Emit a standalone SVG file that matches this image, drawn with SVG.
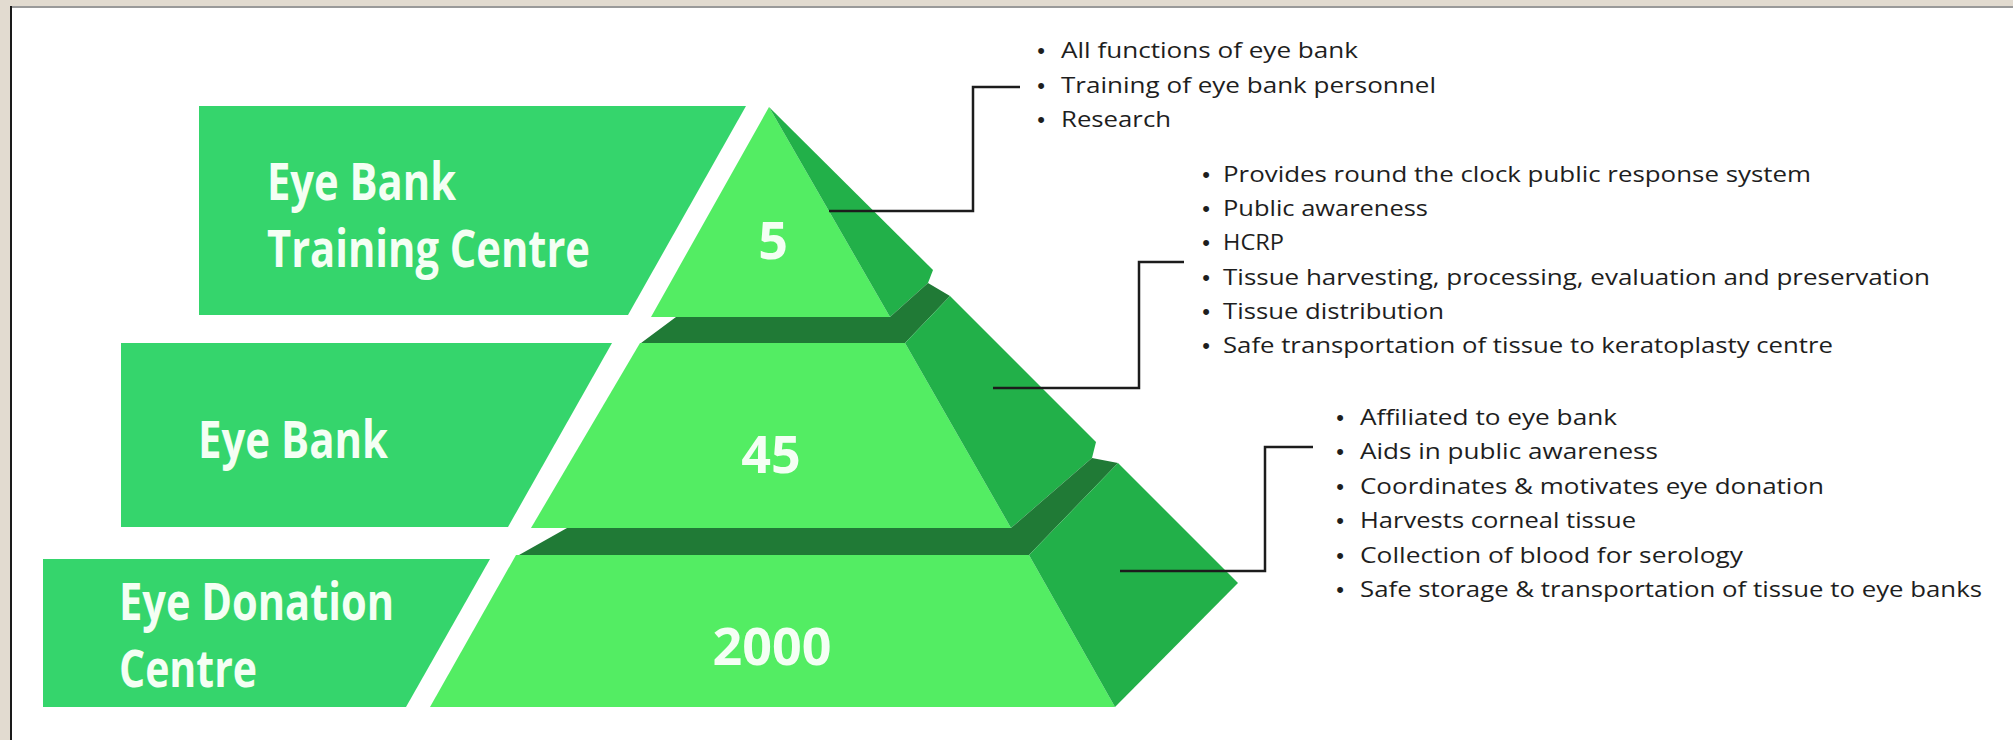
<svg xmlns="http://www.w3.org/2000/svg" width="2013" height="740" viewBox="0 0 2013 740">
  <style>
    .label-box { fill: #35d56c; }
    .face { fill: #53ed63; }
    .side { fill: #22b049; }
    .ledge { fill: #207a36; }
    .label { font-family: "Open Sans", "Liberation Sans", sans-serif; font-weight: 700; font-size: 52px; fill: #f4fff4; }
    .count { font-family: "Open Sans", "Liberation Sans", sans-serif; font-weight: 700; font-size: 52px; fill: #f4fff4; text-anchor: middle; }
    .item { font-family: "Open Sans", "Liberation Sans", sans-serif; font-size: 22px; fill: #1e1e1e; }
    .dot { font-family: "Liberation Sans", sans-serif; font-size: 22px; fill: #1e1e1e; text-anchor: middle; }
    .wire { fill: none; stroke: #1c1c1c; stroke-width: 2.5; }
  </style>

  <!-- page frame -->
  <rect x="0" y="0" width="2013" height="740" fill="#e2dbd0"/>
  <rect x="10" y="6" width="2003" height="734" fill="#ffffff"/>
  <rect x="10" y="6" width="2003" height="2" fill="#9a9a9a"/>
  <rect x="10" y="6" width="2" height="734" fill="#1a1a1a"/>

  <!-- top tier: training centre -->
  <g id="tier-training-centre">
    <polygon class="label-box" points="199,106 746,106 628,315 199,315"/>
    <text class="label" x="267" y="200" textLength="189" lengthAdjust="spacingAndGlyphs">Eye Bank</text>
    <text class="label" x="267" y="267" textLength="323" lengthAdjust="spacingAndGlyphs">Training Centre</text>
    <polygon class="face" points="769,107 890,317 651,317"/>
    <polygon class="side" points="769,107 933,270 928,283 890,317"/>
    <text class="count" x="773" y="259">5</text>
  </g>

  <!-- middle tier: eye bank -->
  <g id="tier-eye-bank">
    <polygon class="ledge" points="676,317 890,317 928,283 950,296 905,343 641,343"/>
    <polygon class="label-box" points="121,343 612,343 508,527 121,527"/>
    <text class="label" x="198" y="458" textLength="190" lengthAdjust="spacingAndGlyphs">Eye Bank</text>
    <polygon class="face" points="640,343 905,343 1011,528 531,528"/>
    <polygon class="side" points="905,343 950,296 1096,442 1092,458 1011,528"/>
    <text class="count" x="771" y="473">45</text>
  </g>

  <!-- bottom tier: eye donation centre -->
  <g id="tier-eye-donation-centre">
    <polygon class="ledge" points="567,528 1011,528 1092,458 1118,463 1029,555 519,555"/>
    <polygon class="label-box" points="43,559 490,559 406,707 43,707"/>
    <text class="label" x="119" y="620" textLength="275" lengthAdjust="spacingAndGlyphs">Eye Donation</text>
    <text class="label" x="119" y="687" textLength="138" lengthAdjust="spacingAndGlyphs">Centre</text>
    <polygon class="face" points="516,555 1029,555 1115,707 430,707"/>
    <polygon class="side" points="1029,555 1118,463 1238,583 1115,707"/>
    <text class="count" x="772" y="665">2000</text>
  </g>

  <!-- bullet lists -->
  <g id="notes-training-centre">
    <text class="dot" x="1041" y="58">•</text>
    <text class="item" x="1061" y="58" textLength="297" lengthAdjust="spacingAndGlyphs">All functions of eye bank</text>
    <text class="dot" x="1041" y="93">•</text>
    <text class="item" x="1061" y="93" textLength="375" lengthAdjust="spacingAndGlyphs">Training of eye bank personnel</text>
    <text class="dot" x="1041" y="127">•</text>
    <text class="item" x="1061" y="127" textLength="110" lengthAdjust="spacingAndGlyphs">Research</text>
  </g>

  <g id="notes-eye-bank">
    <text class="dot" x="1206" y="182">•</text>
    <text class="item" x="1223" y="182" textLength="588" lengthAdjust="spacingAndGlyphs">Provides round the clock public response system</text>
    <text class="dot" x="1206" y="216">•</text>
    <text class="item" x="1223" y="216" textLength="205" lengthAdjust="spacingAndGlyphs">Public awareness</text>
    <text class="dot" x="1206" y="250">•</text>
    <text class="item" x="1223" y="250" textLength="61" lengthAdjust="spacingAndGlyphs">HCRP</text>
    <text class="dot" x="1206" y="285">•</text>
    <text class="item" x="1223" y="285" textLength="707" lengthAdjust="spacingAndGlyphs">Tissue harvesting, processing, evaluation and preservation</text>
    <text class="dot" x="1206" y="319">•</text>
    <text class="item" x="1223" y="319" textLength="221" lengthAdjust="spacingAndGlyphs">Tissue distribution</text>
    <text class="dot" x="1206" y="353">•</text>
    <text class="item" x="1223" y="353" textLength="610" lengthAdjust="spacingAndGlyphs">Safe transportation of tissue to keratoplasty centre</text>
  </g>

  <g id="notes-eye-donation-centre">
    <text class="dot" x="1340" y="425">•</text>
    <text class="item" x="1360" y="425" textLength="257" lengthAdjust="spacingAndGlyphs">Affiliated to eye bank</text>
    <text class="dot" x="1340" y="459">•</text>
    <text class="item" x="1360" y="459" textLength="298" lengthAdjust="spacingAndGlyphs">Aids in public awareness</text>
    <text class="dot" x="1340" y="494">•</text>
    <text class="item" x="1360" y="494" textLength="464" lengthAdjust="spacingAndGlyphs">Coordinates &amp; motivates eye donation</text>
    <text class="dot" x="1340" y="528">•</text>
    <text class="item" x="1360" y="528" textLength="276" lengthAdjust="spacingAndGlyphs">Harvests corneal tissue</text>
    <text class="dot" x="1340" y="563">•</text>
    <text class="item" x="1360" y="563" textLength="383" lengthAdjust="spacingAndGlyphs">Collection of blood for serology</text>
    <text class="dot" x="1340" y="597">•</text>
    <text class="item" x="1360" y="597" textLength="622" lengthAdjust="spacingAndGlyphs">Safe storage &amp; transportation of tissue to eye banks</text>
  </g>

  <!-- elbow connectors from each tier to its list -->
  <g id="connectors">
    <polyline class="wire" points="829,211 973,211 973,87 1020,87"/>
    <polyline class="wire" points="993,388 1139,388 1139,262 1184,262"/>
    <polyline class="wire" points="1120,571 1265,571 1265,447 1313,447"/>
  </g>
</svg>
